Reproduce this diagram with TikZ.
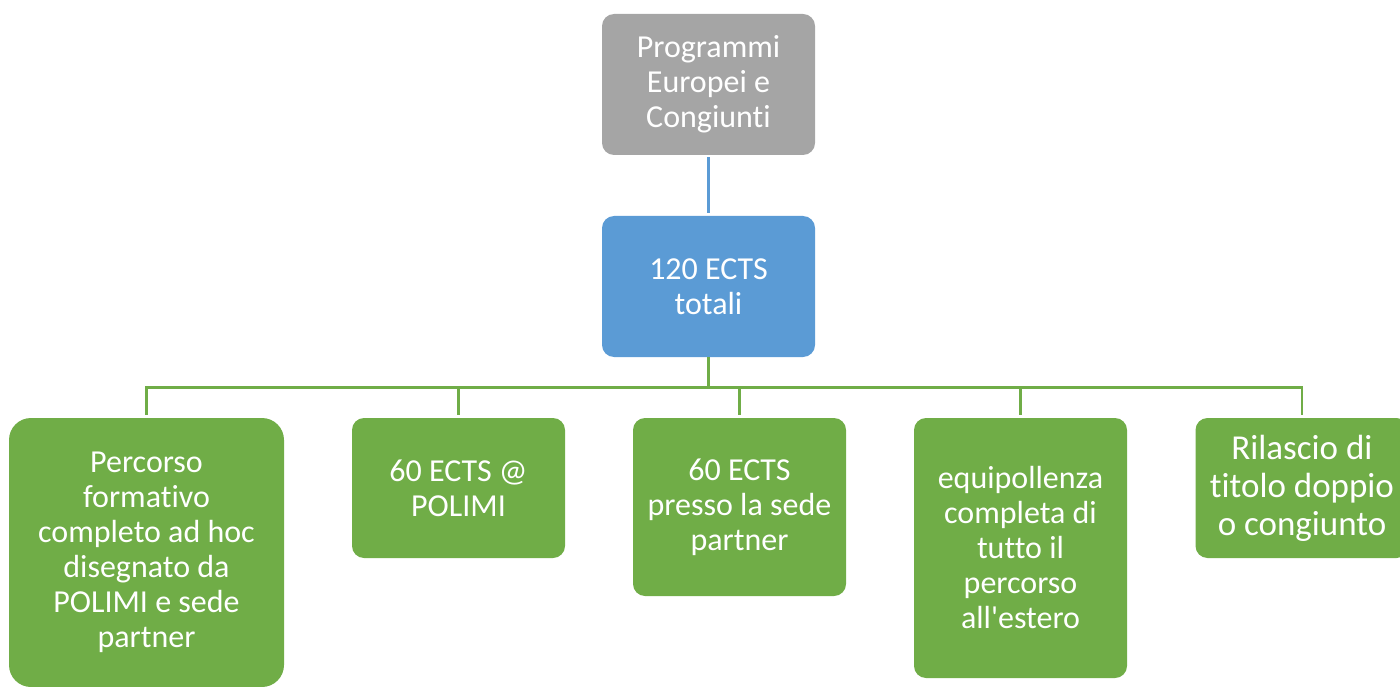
\documentclass[tikz,border=0pt]{standalone}
\usepackage{fontspec}
\setmainfont{Carlito}[Ligatures={TeXOff,CommonOff}]
\usetikzlibrary{positioning}

\definecolor{boxgray}{HTML}{A5A5A5}
\definecolor{boxblue}{HTML}{5B9BD5}
\definecolor{boxgreen}{HTML}{70AD47}

\begin{document}
\begin{tikzpicture}[
  x=1pt, y=1pt,
  box/.style={rounded corners=12pt, align=center, text=white, inner sep=0pt,
    font=\fontsize{32}{35}\selectfont},
  top/.style={box, fill=boxgray, minimum width=213pt, minimum height=141pt},
  mid/.style={box, fill=boxblue, minimum width=213pt, minimum height=141pt},
  leaf/.style={box, fill=boxgreen, minimum width=213pt},
  bline/.style={draw=boxblue, line width=2.5pt, shorten <=2pt, shorten >=3pt},
  gline/.style={draw=boxgreen, line width=2.5pt, shorten >=3pt}
]
\useasboundingbox (0,0) rectangle (1400,-687);

\node[top] (prog) at (708.5,-84.5) {Programmi\\Europei e\\Congiunti};
\node[mid] (ects) at (708.5,-286.5) {120 ECTS\\totali};

% second level
\node[leaf, rounded corners=22pt, minimum width=275pt, minimum height=269pt]
  (percorso) at (146.5,-552.5) {Percorso\\formativo\\completo ad hoc\\disegnato da\\POLIMI e sede\\partner};
\node[leaf, minimum height=140pt] (polimi) at (458.5,-488) {60 ECTS @\\POLIMI};
\node[leaf, minimum height=178pt] (partner) at (739.5,-507) {60 ECTS\\presso la sede\\partner};
\node[leaf, minimum height=260pt] (equip) at (1020.5,-548) {equipollenza\\completa di\\tutto il\\percorso\\all'estero};
\node[leaf, minimum height=140pt, font=\fontsize{35}{38}\selectfont]
  (titolo) at (1302,-488) {Rilascio di\\titolo doppio\\o congiunto};

\draw[bline] (prog) -- (ects);

\coordinate (bus) at (708.5,-387.5);
\draw[boxgreen, line width=2.5pt] (ects.south) -- (bus);
\foreach \n in {percorso,polimi,partner,equip,titolo}
  \draw[gline] (bus) -| (\n.north);
\end{tikzpicture}
\end{document}
